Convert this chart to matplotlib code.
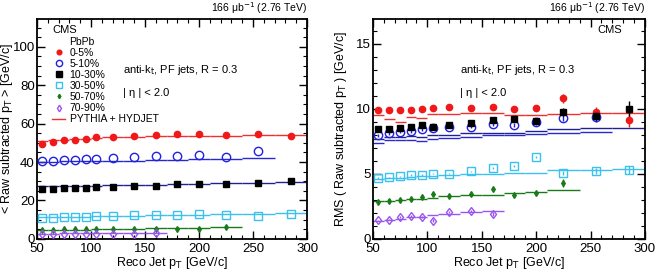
import numpy as np
import matplotlib.pyplot as plt
from matplotlib.lines import Line2D
from matplotlib.ticker import MultipleLocator

# bins (data and MC share the same binning)
edges = np.array([50, 60, 70, 80, 90, 100, 110, 130, 150, 170, 190, 210, 240, 270, 300])
pt = np.array([55, 65, 75, 85, 95, 105, 120, 140, 160, 180, 200, 225, 255, 285])

# ---- mean raw subtracted pT (left) ----
mean_0_5 = [49.3, 50.5, 51.4, 51.7, 52.2, 52.8, 52.9, 53.5, 54.2, 54.7, 54.7, 54.0, 54.8, 53.5]
mean_5_10 = [40.7, 40.8, 41.0, 41.2, 41.5, 41.7, 42.2, 42.4, 42.9, 43.4, 43.9, 42.6, 45.7]
mean_10_30 = [26.0, 26.0, 26.3, 26.5, 26.6, 26.8, 27.2, 27.3, 27.7, 28.5, 28.4, 28.5, 29.1, 30.3]
mean_30_50 = [10.9, 11.1, 11.2, 11.4, 11.6, 11.8, 12.1, 12.3, 12.5, 12.6, 13.0, 12.3, 12.1, 13.1]
mean_50_70 = [4.8, 4.8, 5.0, 5.0, 5.1, 5.2, 5.1, 5.2, 5.4, 5.4, 5.4, 6.1]
mean_70_90 = [2.4, 2.5, 2.5, 2.6, 2.6, 2.7, 2.7, 2.8, 2.9]

mc_mean_0_5 = [51.0, 51.3, 51.6, 51.9, 52.2, 52.5, 52.8, 53.0, 53.5, 53.6, 53.7, 53.8, 53.9, 54.0]
mc_mean_5_10 = [40.1, 40.2, 40.3, 40.4, 40.5, 40.6, 40.7, 40.8, 41.0, 41.2, 41.4, 41.6, 41.9]
mc_mean_10_30 = [27.3, 27.4, 27.5, 27.6, 27.7, 27.8, 27.9, 28.1, 28.3, 28.5, 28.7, 28.9, 29.2, 29.5]
mc_mean_30_50 = [11.2, 11.3, 11.4, 11.5, 11.6, 11.7, 11.9, 12.1, 12.3, 12.5, 12.7, 12.9, 13.1, 13.3]
mc_mean_50_70 = [4.5, 4.6, 4.7, 4.8, 4.9, 5.0, 5.1, 5.3, 5.5, 5.6, 5.8, 6.0]
mc_mean_70_90 = [2.8, 2.8, 2.9, 2.9, 3.0, 3.0, 3.1, 3.1, 3.2]

# ---- RMS raw subtracted pT (right) ----
rms_0_5 = [9.87, 9.92, 9.87, 9.92, 10.0, 10.08, 10.15, 10.05, 10.13, 9.95, 10.05, 10.8, 9.77, 9.13]
rms_0_5_err = [0.1, 0.1, 0.1, 0.1, 0.1, 0.1, 0.1, 0.12, 0.15, 0.15, 0.25, 0.35, 0.4, 0.5]
rms_5_10 = [7.95, 8.1, 8.2, 8.26, 8.41, 8.54, 8.62, 8.62, 8.8, 8.72, 8.97, 9.3, 9.36]
rms_5_10_err = [0.1, 0.1, 0.1, 0.1, 0.1, 0.1, 0.1, 0.1, 0.12, 0.15, 0.2, 0.25, 0.35]
rms_10_30 = [8.46, 8.46, 8.54, 8.6, 8.72, 8.6, 8.77, 8.92, 9.13, 9.23, 9.05, 9.74, 9.44, 10.0]
rms_10_30_err = [0.05, 0.05, 0.05, 0.05, 0.05, 0.05, 0.06, 0.08, 0.1, 0.12, 0.15, 0.3, 0.4, 0.6]
rms_30_50 = [4.69, 4.74, 4.82, 4.9, 4.9, 5.0, 5.0, 5.18, 5.44, 5.59, 6.3, 5.08, 5.2, 5.28]
rms_30_50_err = [0.05, 0.05, 0.05, 0.05, 0.05, 0.05, 0.05, 0.06, 0.08, 0.1, 0.1, 0.15, 0.25, 0.3]
rms_50_70 = [2.85, 2.92, 3.0, 3.1, 3.2, 3.46, 3.33, 3.44, 3.85, 3.41, 3.49, 4.3]
rms_50_70_err = [0.05, 0.05, 0.05, 0.05, 0.06, 0.08, 0.08, 0.1, 0.1, 0.12, 0.15, 0.3]
rms_70_90 = [1.44, 1.49, 1.67, 1.77, 1.67, 1.41, 2.08, 2.13, 1.92]
rms_70_90_err = [0.05, 0.05, 0.06, 0.06, 0.08, 0.1, 0.1, 0.1, 0.15]

mc_rms_0_5 = [9.5, 9.2, 9.0, 9.4, 9.3, 9.6, 9.6, 9.7, 9.7, 9.5, 9.55, 9.6, 9.7, 9.7]
mc_rms_5_10 = [7.4, 7.6, 7.6, 7.6, 7.5, 7.7, 7.75, 7.85, 8.0, 8.0, 8.05, 8.15, 8.25]
mc_rms_10_30 = [7.7, 7.8, 7.8, 7.9, 7.85, 7.95, 8.0, 8.1, 8.15, 8.15, 8.3, 8.45, 8.5, 8.5]
mc_rms_30_50 = [4.6, 4.65, 4.7, 4.75, 4.8, 4.85, 4.9, 4.95, 5.0, 5.05, 5.1, 5.3, 5.3, 5.35]
mc_rms_50_70 = [2.9, 2.95, 3.0, 3.05, 3.1, 3.15, 3.3, 3.35, 3.4, 3.55, 3.6, 3.75]
mc_rms_70_90 = [1.35, 1.45, 1.55, 1.65, 1.7, 1.8, 1.95, 2.1, 2.15]

labels = ['0-5%', '5-10%', '10-30%', '30-50%', '50-70%', '70-90%']
colors = ['#f01818', '#2020e0', 'black', '#3cc0ee', '#1a7a1a', '#9955ee']
mc_colors = ['#f03030', '#2828d0', '#202090', '#3cc0ee', '#1a7a1a', '#9955ee']
markers = ['o', 'o', 's', 's', 'd', 'd']
filled = [True, False, True, False, True, False]
msizes = [4.5, 6, 5, 6, 3, 4.5]

plt.rcParams['font.family'] = ['Liberation Sans', 'DejaVu Sans']

fig = plt.figure(figsize=(6.57, 2.74), dpi=100)
axL = fig.add_axes([0.0563, 0.128, 0.411, 0.803])
axR = fig.add_axes([0.5677, 0.128, 0.414, 0.803])

half = np.diff(edges) / 2.0


def style_axis(ax, ymax, ymaj, ymin):
    ax.set_xlim(50, 300)
    ax.set_ylim(0, ymax)
    ax.xaxis.set_major_locator(MultipleLocator(50))
    ax.xaxis.set_minor_locator(MultipleLocator(10))
    ax.yaxis.set_major_locator(MultipleLocator(ymaj))
    ax.yaxis.set_minor_locator(MultipleLocator(ymin))
    ax.tick_params(which='both', direction='in', top=True, right=True, labelsize=9.5)
    ax.tick_params(axis='y', pad=1.5)
    ax.tick_params(axis='x', pad=3)
    ax.tick_params(which='major', length=6, width=1)
    ax.tick_params(which='minor', length=3, width=0.8)
    for s in ax.spines.values():
        s.set_linewidth(1.3)
    ax.set_xlabel('Reco Jet p$_{\\rm T}$ [GeV/c]', fontsize=9, labelpad=0)


def draw(ax, data, errs, mc):
    for i in range(6):
        n = len(data[i])
        ax.errorbar(pt[:n], data[i], yerr=errs[i] if errs else None, fmt=markers[i],
                    color=colors[i], ms=msizes[i],
                    mfc=colors[i] if filled[i] else 'none', mew=1.0,
                    elinewidth=1.0, capsize=0, zorder=3)
        m = len(mc[i])
        ax.errorbar(pt[:m], mc[i], xerr=half[:m], fmt='none', ecolor=mc_colors[i],
                    elinewidth=1.0, capsize=0, zorder=2)


draw(axL, [mean_0_5, mean_5_10, mean_10_30, mean_30_50, mean_50_70, mean_70_90], None,
     [mc_mean_0_5, mc_mean_5_10, mc_mean_10_30, mc_mean_30_50, mc_mean_50_70, mc_mean_70_90])
draw(axR, [rms_0_5, rms_5_10, rms_10_30, rms_30_50, rms_50_70, rms_70_90],
     [rms_0_5_err, rms_5_10_err, rms_10_30_err, rms_30_50_err, rms_50_70_err, rms_70_90_err],
     [mc_rms_0_5, mc_rms_5_10, mc_rms_10_30, mc_rms_30_50, mc_rms_50_70, mc_rms_70_90])

style_axis(axL, 114.5, 20, 5)
style_axis(axR, 16.9, 5, 1)
axL.set_ylabel('< Raw subtracted p$_{\\rm T}$ > [GeV/c]', fontsize=9)
axR.set_ylabel('RMS ( Raw subtracted p$_{\\rm T}$ ) [GeV/c]', fontsize=9)
axL.yaxis.set_label_coords(-0.083, 0.5)
axR.yaxis.set_label_coords(-0.088, 0.5)

# legend
handles = []
for i in range(6):
    handles.append(Line2D([], [], ls='none', marker=markers[i], color=colors[i],
                          ms=msizes[i] * 0.75, mfc=colors[i] if filled[i] else 'none',
                          mew=1.0))
handles.append(Line2D([], [], color=mc_colors[0], lw=1.0))
axL.legend(handles, labels + ['PYTHIA + HYDJET'], loc='upper left',
           bbox_to_anchor=(0.055, 0.868), frameon=False, fontsize=7.5,
           handlelength=1.3, handletextpad=0.4, labelspacing=0.1, borderaxespad=0,
           borderpad=0)

axL.text(0.058, 0.95, 'CMS', transform=axL.transAxes, fontsize=8, va='center')
axL.text(0.118, 0.896, 'PbPb', transform=axL.transAxes, fontsize=7.5, va='center')
axR.text(0.87, 0.95, 'CMS', transform=axR.transAxes, fontsize=8, va='center', ha='center')

for ax in (axL, axR):
    ax.text(0.32, 0.77, 'anti-k$_{\\rm t}$, PF jets, R = 0.3', transform=ax.transAxes,
            fontsize=8, va='center')
    ax.text(0.32, 0.665, '| η | < 2.0', transform=ax.transAxes, fontsize=8, va='center')
    ax.text(1.0, 1.012, '166 μb$^{-1}$ (2.76 TeV)', transform=ax.transAxes, fontsize=7.5,
            ha='right', va='bottom')

fig.savefig('out.png', dpi=100)
